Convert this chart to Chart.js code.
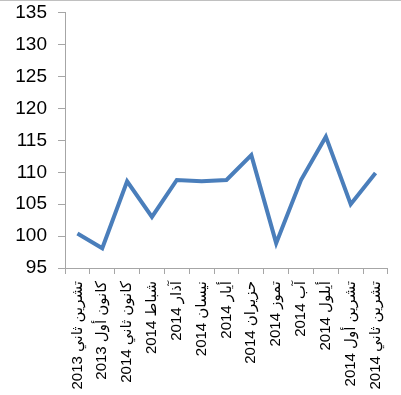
<!DOCTYPE html>
<html>
<head>
<meta charset="utf-8">
<script src="https://cdn.jsdelivr.net/npm/chart.js@4/dist/chart.umd.min.js"></script>
<style>
  html, body { margin: 0; padding: 0; background: #fff; }
  #wrap { position: relative; width: 401px; height: 395px; box-sizing: border-box; border-top: 1px solid #c0c0c0; }
</style>
</head>
<body>
<div id="wrap"><canvas id="chart"></canvas></div>
<script>
// ── DATA ──────────────────────────────────────────────────────────────────
const months = [
  'تشرين ثاني 2013', 'كانون أول 2013', 'كانون ثاني 2014', 'شباط 2014',
  'آذار 2014', 'نيسان 2014', 'أيار 2014', 'حزيران 2014', 'تموز 2014',
  'آب 2014', 'أيلول 2014', 'تشرين أول 2014', 'تشرين ثاني 2014'
];
const indexValues = [100.4, 98.1, 108.6, 103.0, 108.8, 108.6, 108.8, 112.7, 98.9, 108.8, 115.6, 105.0, 109.9];
const yTicks = [95, 100, 105, 110, 115, 120, 125, 130, 135];

const axisGray = '#a6a6a6';
const fontFamily = "Arial, 'Liberation Sans', 'DejaVu Sans', sans-serif";

new Chart(document.getElementById('chart'), {
  type: 'line',
  data: {
    labels: months,
    datasets: [{
      data: indexValues,
      borderColor: '#4a7ebb',
      borderWidth: 4,
      pointRadius: 0,
      tension: 0,
      fill: false
    }]
  },
  options: {
    responsive: true,
    maintainAspectRatio: false,
    animation: false,
    layout: { padding: { left: 0, right: 12, top: 0, bottom: 0 } },
    plugins: { legend: { display: false }, tooltip: { enabled: false } },
    scales: {
      x: {
        offset: true,
        grid: { offset: true, drawOnChartArea: false, drawTicks: true, tickLength: 6, color: axisGray },
        border: { color: axisGray, width: 1 },
        ticks: {
          autoSkip: false,
          minRotation: 90,
          maxRotation: 90,
          padding: 7,
          color: '#000',
          font: { family: fontFamily, size: 15 }
        },
        afterFit: s => { s.height = 127; }
      },
      y: {
        min: yTicks[0],
        max: yTicks[yTicks.length - 1],
        afterBuildTicks: s => { s.ticks = yTicks.map(v => ({ value: v })); },
        grid: { drawOnChartArea: false, drawTicks: true, tickLength: 7, color: axisGray },
        border: { color: axisGray, width: 1 },
        ticks: {
          padding: 11,
          color: '#000',
          font: { family: fontFamily, size: 19, lineHeight: 0.1 }
        },
        afterFit: s => { s.width = 65; }
      }
    }
  }
});
</script>
</body>
</html>
